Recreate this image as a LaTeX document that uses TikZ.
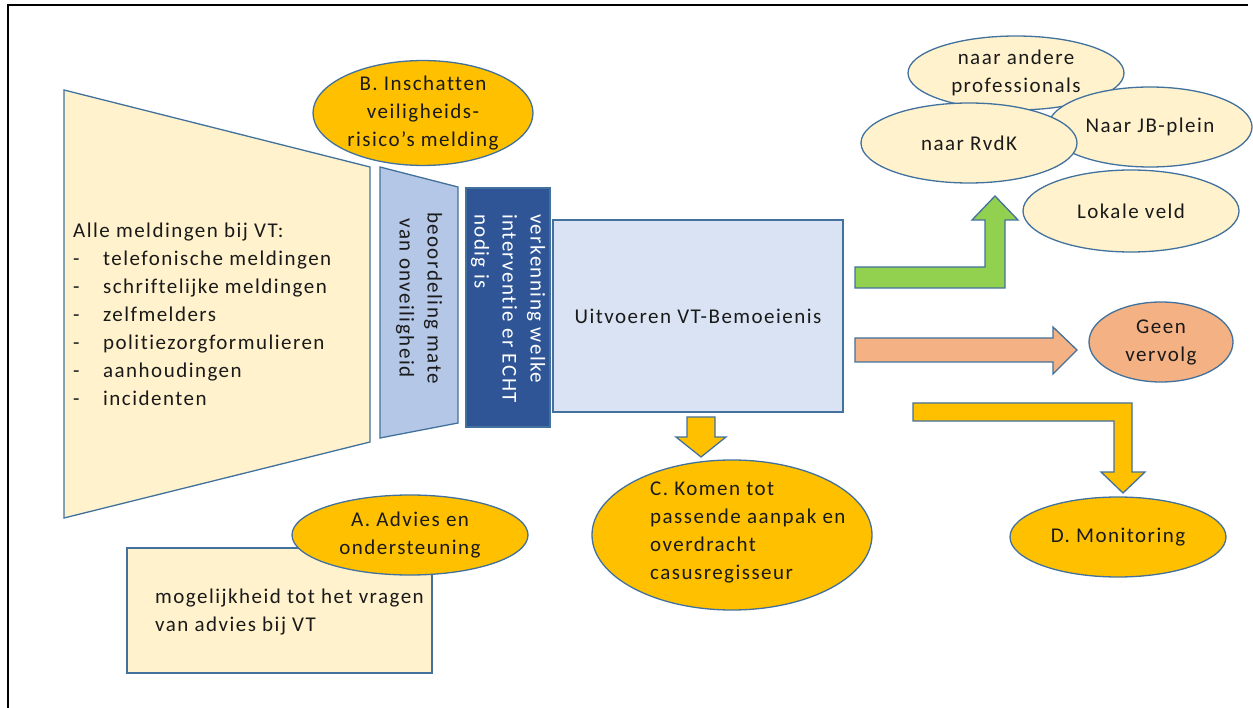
\documentclass[tikz,border=0pt]{standalone}
\usepackage{fontspec}
\setmainfont{Carlito}[LetterSpace=7,Ligatures=NoCommon]
\usetikzlibrary{shapes.geometric}
\definecolor{bord}{HTML}{41719C}
\definecolor{cream}{HTML}{FFF2CC}
\definecolor{gold}{HTML}{FFC000}
\definecolor{lblue}{HTML}{B4C7E7}
\definecolor{dblue}{HTML}{2F5597}
\definecolor{pblue}{HTML}{DAE3F3}
\definecolor{lgreen}{HTML}{92D050}
\definecolor{salmon}{HTML}{F4B183}
\definecolor{ink}{HTML}{1A1A1A}
\begin{document}
\begin{tikzpicture}[x=1pt,y=-1pt,
  font=\fontsize{21}{28}\selectfont, text=ink,
  ol/.style={draw=bord,line width=1.3pt},
  ell/.style={ol,ellipse,inner sep=0pt,align=center},
  boxnode/.style={ol,rectangle,inner sep=0pt},
  txt/.style={inner sep=0pt,align=left}]
\useasboundingbox (0,0) rectangle (1253,708);
\draw[line width=2.5pt] (8,708) -- (8,5) -- (1248,5);

% big funnel
\draw[ol,fill=cream] (64,90) -- (370,167) -- (370,442) -- (64,518) -- cycle;
\node[txt,anchor=west] (alle) at (73,314) {Alle meldingen bij VT:\\
\makebox[30pt][l]{-}telefonische meldingen\\
\makebox[30pt][l]{-}schriftelijke meldingen\\
\makebox[30pt][l]{-}zelfmelders\\
\makebox[30pt][l]{-}politiezorgformulieren\\
\makebox[30pt][l]{-}aanhoudingen\\
\makebox[30pt][l]{-}incidenten};

% second funnel
\draw[ol,fill=lblue] (380,167) -- (458,187) -- (458,423) -- (380,438) -- cycle;
\node[txt,align=center,rotate=-90] (beo) at (419,298) {beoordeling mate\\van onveiligheid};

% dark box
\node[boxnode,fill=dblue,minimum width=84,minimum height=239] (verk) at (508,307.5) {};
\node[txt,rotate=-90,anchor=west,text=white] (verkt) at (508,214) {verkenning welke\\interventie er ECHT\\nodig is};

% main box
\node[boxnode,fill=pblue,minimum width=290,minimum height=192] (uit) at (698,316) {Uitvoeren VT-Bemoeienis};

% B
\node[ell,fill=gold,minimum width=220,minimum height=96] (B) at (423,113) {B. Inschatten\\veiligheids-\\risico’s melding};

% A
\node[boxnode,fill=cream,minimum width=305,minimum height=125] (Arect) at (279.5,610.5) {};
\node[txt,anchor=west] (Atext) at (155,612) {mogelijkheid tot het vragen\\van advies bij VT};
\node[ell,fill=gold,minimum width=236,minimum height=80] (A) at (410,535) {A. Advies en\\ondersteuning};

% down arrow to C
\draw[ol,fill=gold] (687,417) -- (715,417) -- (715,437) -- (726,437) -- (701,457) -- (676,437) -- (687,437) -- cycle;
\node[ell,fill=gold,minimum width=280,minimum height=150] (C) at (732,535) {};
\node[txt,anchor=west] (Ctext) at (650,532) {C. Komen tot\\passende aanpak en\\overdracht\\casusregisseur};

% top right ellipses
\node[ell,fill=cream,minimum width=216,minimum height=74] (prof) at (1016,73) {naar andere\\professionals};
\node[ell,fill=cream,minimum width=204,minimum height=80] (jb) at (1150,127) {Naar JB-plein};
\node[ell,fill=cream,minimum width=216,minimum height=80] (rvdk) at (969,143) {naar RvdK};
\node[ell,fill=cream,minimum width=216,minimum height=82] (lok) at (1131,211) {Lokale veld};

% green arrow
\draw[ol,fill=lgreen] (855,267) -- (985,267) -- (985,220) -- (972,220) -- (995,196) -- (1018,220) -- (1005,220) -- (1005,288) -- (855,288) -- cycle;

% salmon arrow
\draw[ol,fill=salmon] (855,338) -- (1053,338) -- (1053,327) -- (1077,350) -- (1053,374) -- (1053,362) -- (855,362) -- cycle;
\node[ell,fill=salmon,minimum width=144,minimum height=80] (geen) at (1161,342) {Geen\\vervolg};

% gold L arrow
\draw[ol,fill=gold] (913,403) -- (1132,403) -- (1132,472) -- (1145,472) -- (1123,493) -- (1101,472) -- (1114,472) -- (1114,421) -- (913,421) -- cycle;
\node[ell,fill=gold,minimum width=216,minimum height=80] (D) at (1118,537) {D. Monitoring};
\end{tikzpicture}
\end{document}
